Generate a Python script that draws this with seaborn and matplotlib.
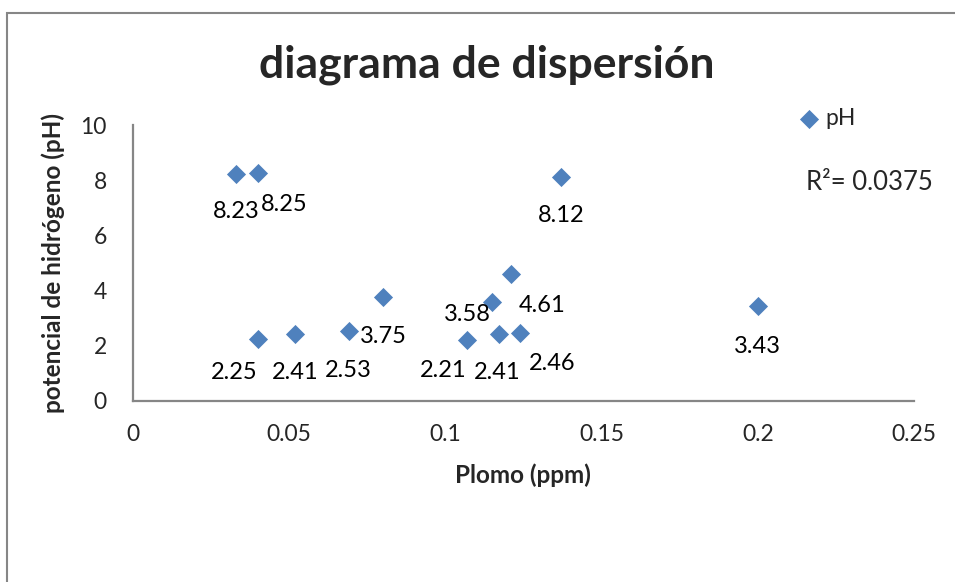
import matplotlib
matplotlib.use("Agg")
import matplotlib.pyplot as plt
import seaborn as sns
import pandas as pd
from matplotlib.patches import Rectangle

# ---- data ----
plomo = [0.033, 0.040, 0.040, 0.052, 0.069, 0.080, 0.107, 0.115, 0.117, 0.121, 0.124, 0.137, 0.200]
ph = [8.23, 8.25, 2.25, 2.41, 2.53, 3.75, 2.21, 3.58, 2.41, 4.61, 2.46, 8.12, 3.43]
x_ticks = [0, 0.05, 0.1, 0.15, 0.2, 0.25]
x_tick_labels = ["0", "0.05", "0.1", "0.15", "0.2", "0.25"]
y_ticks = [0, 2, 4, 6, 8, 10]
title = "diagrama de dispersión"
x_label = "Plomo (ppm)"
y_label = "potencial de hidrógeno (pH)"
series_name = "pH"
r2_text = "R²= 0.0375"

# label offsets (pixels) - styling only
label_offsets = [(0, -38), (26, -31), (-24, -34), (0, -38), (0, -40), (0, -39),
                 (-24, -31), (-25, -12), (-1, -38), (31, -32), (32, -31), (0, -39), (0, -40)]

df = pd.DataFrame({"Plomo": plomo, "pH": ph})

sns.set_style("white")
plt.rcParams["font.family"] = ["Lato", "DejaVu Sans"]

fig = plt.figure(figsize=(9.55, 5.82), dpi=100)
ax = fig.add_axes([0.1393, 0.3115, 0.8178, 0.4737])

blue = "#4F81BD"
grey = "#868686"

sns.scatterplot(data=df, x="Plomo", y="pH", marker="D", s=95, color=blue,
                linewidth=0, label=series_name, ax=ax, zorder=3)

for xv, yv, (dx, dy) in zip(plomo, ph, label_offsets):
    ax.annotate(f"{yv:.2f}", (xv, yv), xytext=(dx, dy), textcoords="offset pixels",
                ha="center", va="center", fontsize=17, color="black")

ax.set_xlim(0, 0.25)
ax.set_ylim(0, 10)
ax.set_xticks(x_ticks)
ax.set_xticklabels(x_tick_labels)
ax.set_yticks(y_ticks)
ax.tick_params(axis="x", length=0, pad=17, labelsize=16.5)
ax.tick_params(axis="y", length=0, pad=19, labelsize=16.5)

for side in ["top", "right"]:
    ax.spines[side].set_visible(False)
for side in ["left", "bottom"]:
    ax.spines[side].set_color(grey)
    ax.spines[side].set_linewidth(1.6)

ax.set_xlabel(x_label, fontsize=17.5, fontweight="bold", va="center")
ax.xaxis.set_label_coords(0.4987, -0.2695)
ax.set_ylabel(y_label, fontsize=17.5, fontweight="bold", va="center", ha="center")
ax.yaxis.set_label_coords(-0.1024, 0.5)

ax.legend(loc="center left", bbox_to_anchor=(800 / 955, 1 - 119 / 582),
          bbox_transform=fig.transFigure, frameon=False, fontsize=16.5,
          handlelength=0.8, handletextpad=0.3, borderpad=0, borderaxespad=0)

fig.text(806 / 955, 1 - 183 / 582, r2_text, ha="left", va="center", fontsize=18.5)
fig.text(487 / 955, 1 - 65 / 582, title, ha="center", va="center", fontsize=32,
         fontweight="bold")

fig.add_artist(Rectangle((7 / 955, -0.2), 1.2, 1.2 - 12.7 / 582,
                         transform=fig.transFigure, fill=False,
                         edgecolor=grey, linewidth=1.5))

fig.savefig("out.png", dpi=100)
